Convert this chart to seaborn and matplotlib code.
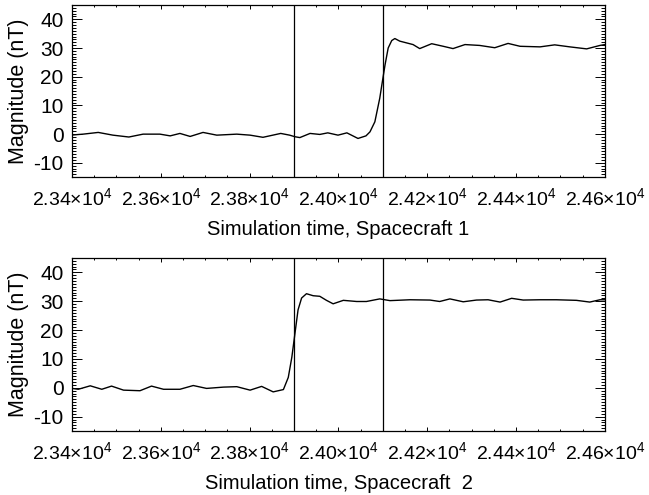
import pandas as pd
import seaborn as sns
from matplotlib import pyplot as plt
from matplotlib.ticker import FixedLocator, FixedFormatter, MultipleLocator


# values
TIME_SC1 = [23400, 23425, 23459, 23492, 23528, 23560, 23598, 23621, 23643, 23666,
            23695, 23726, 23771, 23801, 23830, 23870, 23890, 23902, 23913, 23936,
            23958, 23976, 23999, 24019, 24044, 24062, 24071, 24082, 24093, 24099,
            24105, 24112, 24120, 24127, 24138, 24153, 24168, 24183, 24210, 24236,
            24258, 24285, 24318, 24352, 24382, 24409, 24454, 24487, 24521, 24559,
            24589, 24600]
MAG_SC1 = [-0.3, 0.0, 0.6, -0.35, -1.0, 0.0, 0.0, -0.6, 0.25, -0.8,
           0.6, -0.35, 0.0, -0.35, -1.1, 0.25, -0.35, -0.9, -1.2, 0.25,
           -0.1, 0.45, -0.35, 0.45, -1.5, -0.6, 0.8, 4.3, 12.5, 18.4,
           24.2, 30.0, 32.6, 33.3, 32.4, 31.8, 31.2, 29.8, 31.5, 30.6,
           29.8, 31.2, 30.9, 30.1, 31.6, 30.6, 30.4, 31.1, 30.4, 29.7,
           30.9, 31.2]

TIME_SC2 = [23400, 23414, 23441, 23467, 23489, 23516, 23553, 23579, 23606, 23643,
            23673, 23703, 23741, 23771, 23801, 23827, 23853, 23876, 23887, 23895,
            23902, 23909, 23917, 23928, 23943, 23958, 23973, 23988, 24011, 24041,
            24063, 24093, 24116, 24161, 24206, 24228, 24251, 24281, 24311, 24337,
            24364, 24390, 24416, 24454, 24491, 24536, 24566, 24589, 24600]
MAG_SC2 = [-0.2, -0.5, 0.7, -0.5, 0.6, -0.8, -1.0, 0.6, -0.5, -0.5,
           0.8, -0.2, 0.25, 0.4, -0.8, 0.5, -1.4, -0.6, 3.6, 10.6,
           18.8, 27.0, 31.1, 32.6, 31.9, 31.7, 30.3, 29.1, 30.3, 29.9,
           29.9, 30.8, 30.2, 30.5, 30.4, 29.9, 30.8, 29.8, 30.4, 30.5,
           29.7, 31.0, 30.4, 30.5, 30.5, 30.3, 29.7, 30.5, 30.5]

EVENT_TIMES = [23900, 24100]
X_TICKS = [23400, 23600, 23800, 24000, 24200, 24400, 24600]
X_TICK_LABELS = ["2.34", "2.36", "2.38", "2.40", "2.42", "2.44", "2.46"]
Y_TICKS = [-10, 0, 10, 20, 30, 40]
XLABELS = ["Simulation time, Spacecraft 1", "Simulation time, Spacecraft  2"]


def style_axis(ax, xlabel):
    ax.set_xlim(23400, 24600)
    ax.set_ylim(-15, 45)
    ax.xaxis.set_major_locator(FixedLocator(X_TICKS))
    ax.xaxis.set_major_formatter(
        FixedFormatter([f"{s}\u00d710$^{{4}}$" for s in X_TICK_LABELS]))
    ax.xaxis.set_minor_locator(MultipleLocator(50))
    ax.yaxis.set_major_locator(FixedLocator(Y_TICKS))
    ax.yaxis.set_minor_locator(MultipleLocator(1))
    ax.tick_params(which="both", direction="in", top=True, right=True,
                   width=0.7, colors="black")
    ax.tick_params(axis="x", which="major", length=2.6, pad=7, labelsize=14)
    ax.tick_params(axis="x", which="minor", length=1.4)
    ax.tick_params(axis="y", which="major", length=7, pad=6, labelsize=15)
    ax.tick_params(axis="y", which="minor", length=2.8)
    for spine in ax.spines.values():
        spine.set_visible(True)
        spine.set_linewidth(0.9)
        spine.set_color("black")
    ax.set_xlabel(xlabel, fontsize=14.5, labelpad=8, color="black")
    ax.set_ylabel("Magnitude (nT)", fontsize=15.5, labelpad=3, color="black")


def main():
    sns.set_theme(style="ticks")
    plt.rcParams.update({
        "font.family": ["Liberation Sans", "DejaVu Sans"],
        "mathtext.fontset": "custom",
        "mathtext.rm": "Liberation Sans",
        "mathtext.it": "Liberation Sans:italic",
        "mathtext.bf": "Liberation Sans:bold",
        "axes.unicode_minus": False,
        "lines.solid_joinstyle": "round",
        "text.color": "black",
        "axes.labelcolor": "black",
    })

    frames = [
        pd.DataFrame({"time": TIME_SC1, "magnitude": MAG_SC1}),
        pd.DataFrame({"time": TIME_SC2, "magnitude": MAG_SC2}),
    ]

    fig = plt.figure(figsize=(6.49, 4.95), dpi=100)
    axes = [
        fig.add_axes([0.111, 0.642, 0.821, 0.348]),
        fig.add_axes([0.111, 0.129, 0.821, 0.350]),
    ]

    for ax, df, xlabel in zip(axes, frames, XLABELS):
        sns.lineplot(data=df, x="time", y="magnitude", color="black",
                     linewidth=1.0, estimator=None, sort=True, ax=ax)
        for t in EVENT_TIMES:
            ax.axvline(t, color="black", linewidth=0.9)
        style_axis(ax, xlabel)

    fig.savefig("out.png", dpi=100)
    plt.close(fig)


if __name__ == "__main__":
    main()
